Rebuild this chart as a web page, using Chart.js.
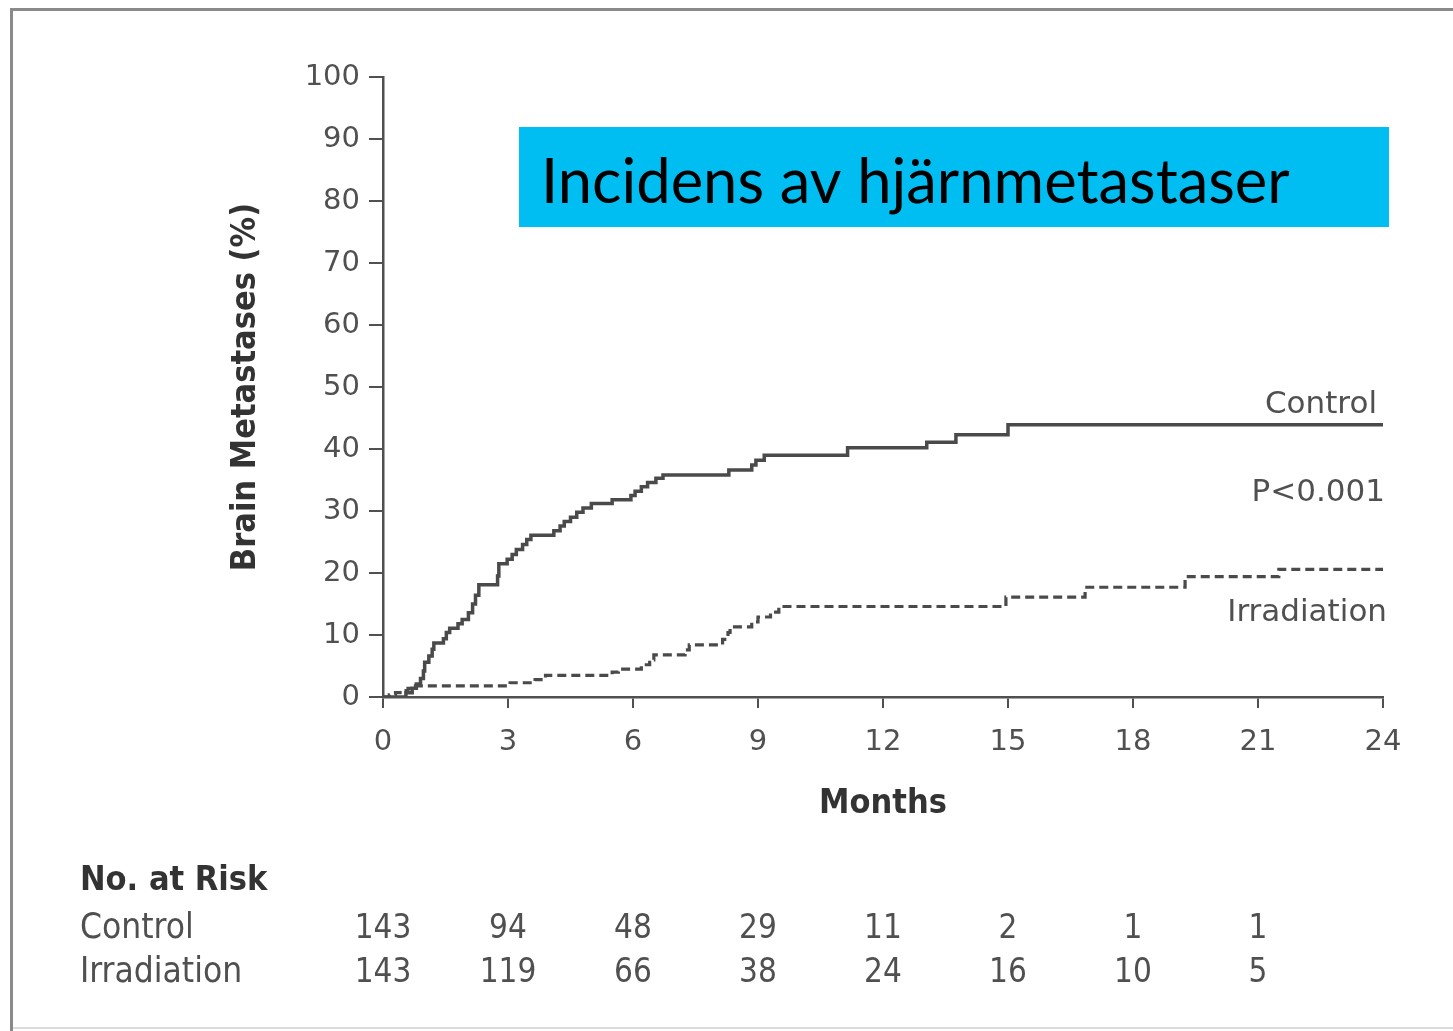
<!DOCTYPE html>
<html>
<head>
<meta charset="utf-8">
<script src="https://cdn.jsdelivr.net/npm/chart.js@4.4.1/dist/chart.umd.min.js"></script>
<style>
  html, body { margin: 0; padding: 0; background: #fff; }
  #wrap { position: relative; width: 1453px; height: 1031px; overflow: hidden; }
  #km { position: absolute; left: 0; top: 0; filter: blur(0.5px); }
</style>
</head>
<body>
<div id="wrap"><canvas id="km" width="1453" height="1031"></canvas></div>
<script>
// Cumulative incidence of brain metastases (%), Kaplan-Meier step points (months, %)
const controlMonths = [0, 0.55, 0.7, 0.8, 0.9, 0.97, 1.0, 1.1, 1.18, 1.22, 1.45, 1.52, 1.6, 1.8, 1.9, 2.05, 2.15, 2.22, 2.3,
  2.75, 2.78, 2.98, 3.1, 3.2, 3.35, 3.45, 3.55, 4.1, 4.25, 4.35, 4.5, 4.65, 4.8, 5.0, 5.5, 5.95, 6.05, 6.2, 6.35, 6.55, 6.72,
  8.3, 8.85, 8.95, 9.15, 11.15, 13.05, 13.75, 15.0, 24.0];
const controlPct = [0, 0.7, 1.4, 2.1, 3.0, 4.2, 5.6, 6.6, 7.7, 8.7, 9.4, 10.4, 11.1, 11.8, 12.5, 13.6, 15.0, 16.4, 18.1,
  19.5, 21.5, 22.2, 23.0, 23.8, 24.6, 25.4, 26.1, 26.8, 27.6, 28.3, 29.0, 29.8, 30.5, 31.2, 31.8, 32.5, 33.2, 33.9, 34.6, 35.3, 35.8,
  36.6, 37.4, 38.2, 39.0, 40.2, 41.1, 42.3, 43.9, 43.9];

const irradMonths = [0, 0.15, 0.3, 0.45, 0.6, 0.7, 3.05, 3.65, 3.9, 5.5, 5.65, 6.2, 6.4, 6.5, 7.25, 7.35, 8.15, 8.28, 8.33,
  8.85, 9.0, 9.3, 9.5, 14.95, 16.85, 19.25, 21.5, 24.0];
const irradPct = [0, 0.35, 0.7, 1.05, 1.4, 1.8, 2.3, 2.8, 3.5, 4.0, 4.5, 5.2, 6.0, 6.8, 7.6, 8.4, 9.3, 10.4, 11.3,
  12.1, 12.9, 13.7, 14.6, 16.1, 17.7, 19.4, 20.6, 20.6];

// Number at risk table
const riskMonths = [0, 3, 6, 9, 12, 15, 18, 21];
const riskControl = [143, 94, 48, 29, 11, 2, 1, 1];
const riskIrradiation = [143, 119, 66, 38, 24, 16, 10, 5];

const seriesNames = ['Control', 'Irradiation'];
const titleText = 'Incidens av hjärnmetastaser';
const pValueText = 'P<0.001';

const toPoints = (xs, ys) => xs.map((x, i) => ({ x: x, y: ys[i] }));

const INK = '#505050';
const COND = "'DejaVu Sans Condensed', 'DejaVu Sans', sans-serif";
const WIDE = "'DejaVu Sans', sans-serif";

const decor = {
  id: 'decor',
  beforeDraw(chart) {
    const c = chart.ctx;
    c.save();
    c.fillStyle = '#fff';
    c.fillRect(0, 0, chart.width, chart.height);
    // frame
    c.strokeStyle = '#dcdcdc';
    c.lineWidth = 2;
    c.beginPath(); c.moveTo(10, 1028); c.lineTo(1453, 1028); c.stroke();
    c.strokeStyle = '#8a8a8a';
    c.lineWidth = 3;
    c.beginPath();
    c.moveTo(11.5, 1031); c.lineTo(11.5, 9.5); c.lineTo(1453, 9.5);
    c.stroke();
    c.restore();
  },
  afterDraw(chart) {
    const c = chart.ctx;
    const xs = chart.scales.x, ys = chart.scales.y;
    c.save();

    // heading box
    c.fillStyle = '#00BEF2';
    c.fillRect(519, 127, 870, 100);
    c.fillStyle = '#000';
    c.font = "61.5px Lato, 'Open Sans', sans-serif";
    c.textAlign = 'left';
    c.textBaseline = 'alphabetic';
    c.fillText(titleText, 541, 203);

    // curve labels
    c.fillStyle = INK;
    c.font = '31px ' + WIDE;
    c.textAlign = 'right';
    c.textBaseline = 'middle';
    c.fillText(seriesNames[0], xs.right - 6, ys.getPixelForValue(47.6) + 3);
    c.fillText(pValueText, xs.right + 2, ys.getPixelForValue(33.4) + 3);
    c.fillText(seriesNames[1], xs.right + 4, ys.getPixelForValue(14.0) + 3);

    // number at risk
    c.textAlign = 'left';
    c.fillStyle = '#333';
    c.font = 'bold 34px ' + COND;
    c.fillText('No. at Risk', 80, 881);
    c.fillStyle = INK;
    c.font = '35px ' + COND;
    c.fillText(seriesNames[0], 80, 929);
    c.fillText(seriesNames[1], 80, 973);
    c.textAlign = 'center';
    c.font = '33px ' + COND;
    riskMonths.forEach((m, i) => {
      const px = xs.getPixelForValue(m);
      c.fillText(String(riskControl[i]), px, 929);
      c.fillText(String(riskIrradiation[i]), px, 973);
    });
    c.restore();
  }
};

new Chart(document.getElementById('km'), {
  type: 'line',
  data: {
    datasets: [
      {
        label: seriesNames[0],
        data: toPoints(controlMonths, controlPct),
        stepped: true,
        borderColor: '#4a4a4a',
        borderWidth: 3.5,
        pointRadius: 0,
        fill: false
      },
      {
        label: seriesNames[1],
        data: toPoints(irradMonths, irradPct),
        stepped: true,
        borderColor: '#4a4a4a',
        borderWidth: 3.2,
        borderDash: [9, 5],
        pointRadius: 0,
        fill: false
      }
    ]
  },
  options: {
    responsive: false,
    animation: false,
    devicePixelRatio: 1,
    layout: { padding: { left: 226, top: 77, right: 70, bottom: 206 } },
    plugins: { legend: { display: false }, tooltip: { enabled: false } },
    scales: {
      x: {
        type: 'linear',
        min: 0,
        max: 24,
        afterFit(s) { s.height = 128; },
        ticks: { stepSize: 3, color: INK, font: { family: WIDE, size: 29 }, padding: 17, maxRotation: 0, autoSkip: false },
        grid: { drawOnChartArea: false, drawTicks: true, tickLength: 11, color: INK, lineWidth: 2 },
        border: { display: true, color: INK, width: 2.5 },
        title: { display: true, text: 'Months', color: '#333', font: { family: COND, size: 34, weight: 'bold' }, padding: { top: 0, bottom: 0 } }
      },
      y: {
        min: 0,
        max: 100,
        afterFit(s) { s.width = 157; },
        ticks: { stepSize: 10, color: INK, font: { family: WIDE, size: 29 }, padding: 9 },
        grid: { drawOnChartArea: false, drawTicks: true, tickLength: 14, color: INK, lineWidth: 2 },
        border: { display: true, color: INK, width: 2.5 },
        title: { display: true, text: 'Brain Metastases (%)', color: '#333', font: { family: COND, size: 34, weight: 'bold' }, padding: { top: 0, bottom: 0 } }
      }
    }
  },
  plugins: [decor]
});
</script>
</body>
</html>
